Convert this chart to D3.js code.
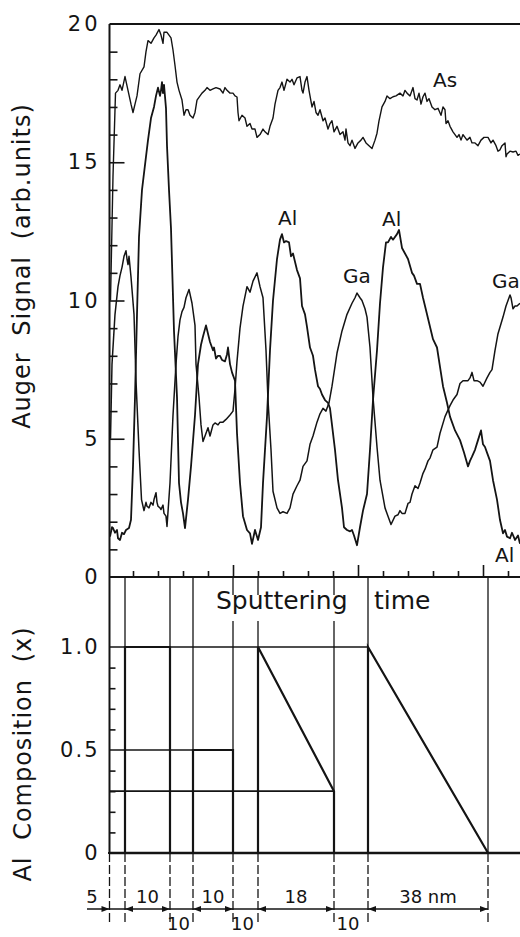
<!DOCTYPE html>
<html><head><meta charset="utf-8">
<script src="https://cdn.jsdelivr.net/npm/d3@7"></script>
<style>
html,body{margin:0;padding:0;background:#fff;}
svg{display:block;}
text{font-family:"DejaVu Sans",sans-serif;fill:#141414;}
</style></head><body>
<svg id="c" width="520" height="937"></svg>
<script>
// ---------- DATA (sputtering time in arb. units, signal in arb. units) ----------
const asSignal = [[2.5,10.0],[5,14.5],[7.5,17.5],[10,17.6],[12,17.8],[14,17.6],[17,18.1],[20,17.6],[23,17.1],[25,16.8],[27,17.1],[29,17.4],[32,18.2],[36,18.45],[38,19.0],[40,19.4],[43,19.3],[46,19.5],[48,19.6],[51,19.8],[53,19.6],[55,19.3],[56,19.7],[59,19.7],[61,19.6],[63,19.5],[65,19.06],[67,18.5],[69,17.9],[71,17.6],[74,17.25],[76,16.7],[78,16.9],[80,16.9],[82,16.7],[85,16.6],[87,16.8],[89,17.25],[92,17.4],[94,17.5],[97,17.6],[99,17.7],[102,17.6],[105,17.65],[108,17.7],[112,17.65],[115,17.5],[117,17.7],[119,17.6],[122,17.5],[125,17.5],[127,17.4],[129,17.36],[130,16.8],[131,16.5],[134,16.7],[137,16.6],[139,16.3],[142,16.4],[144,16.2],[147,16.2],[149,15.9],[152,16.0],[155,16.2],[157,16.1],[160,16.0],[162,16.3],[165,16.6],[167,17.1],[170,17.6],[172,17.7],[174,17.9],[176,17.6],[179,18.0],[182,17.9],[184,18.0],[186,17.8],[189,18.05],[192,18.1],[194,17.6],[195,17.5],[197,17.9],[199,18.1],[201,17.6],[204,17.0],[206,17.2],[208,16.8],[210,16.7],[212,16.9],[215,16.5],[217,16.6],[220,16.2],[222,16.4],[224,16.5],[226,16.1],[229,16.3],[232,16.0],[235,16.1],[237,15.8],[238,16.2],[240,15.7],[242,15.6],[244,15.8],[247,15.5],[250,15.7],[253,15.8],[255,15.9],[258,15.7],[261,15.6],[264,15.5],[267,15.8],[269,16.05],[271,16.5],[274,17.0],[277,17.2],[279,17.4],[282,17.3],[285,17.37],[288,17.4],[292,17.5],[295,17.4],[297,17.6],[299,17.5],[302,17.4],[305,17.7],[307,17.3],[309,17.25],[311,17.5],[313,17.1],[315,17.37],[317,17.5],[319,17.2],[321,17.3],[324,17.0],[327,16.9],[330,16.95],[333,16.7],[335,17.0],[337,16.9],[338,16.4],[340,16.5],[342,16.3],[345,16.1],[347,16.0],[349,15.9],[351,16.0],[353,15.8],[355,16.0],[357,15.9],[359,15.8],[362,15.9],[364,15.7],[367,15.7],[370,15.6],[373,15.8],[376,15.9],[380,15.9],[383,15.7],[385,15.8],[388,15.6],[390,15.4],[392,15.45],[394,15.6],[397,15.7],[398,15.2],[399,15.3],[402,15.4],[405,15.37],[408,15.4],[410,15.25],[412,15.3]];

const alSignal = [[2,1.46],[4,1.8],[5,1.77],[7,1.6],[9,1.7],[10,1.4],[12,1.34],[14,1.6],[16,1.55],[18,1.7],[21,1.77],[23,2.07],[25,4.0],[27,6.5],[29,9.5],[31,12.3],[34,14.0],[38,15.2],[40,15.8],[43,16.6],[46,17.0],[48,17.4],[50,17.7],[52,17.4],[53,17.6],[54,17.9],[55,17.5],[56,17.8],[58,16.95],[59,15.6],[61,14.0],[63,12.6],[66,8.9],[69,6.5],[71,3.4],[73,2.7],[75,2.3],[77,1.77],[80,2.8],[83,4.0],[87,5.85],[90,7.7],[93,8.4],[95,8.7],[98,9.1],[100,8.8],[102,8.5],[105,8.2],[106,8.3],[108,7.9],[110,8.0],[112,8.0],[114,7.85],[117,7.8],[119,8.05],[120,8.3],[122,7.7],[124,7.4],[127,7.1],[129,5.2],[132,3.4],[135,2.2],[139,1.7],[142,1.58],[144,1.2],[147,1.7],[150,1.34],[153,1.8],[155,3.4],[159,5.8],[162,8.2],[165,10.0],[169,11.5],[172,12.2],[174,12.4],[176,12.1],[178,12.15],[181,12.1],[183,11.6],[185,11.7],[189,11.1],[192,10.8],[194,9.8],[197,9.5],[199,9.05],[202,8.3],[205,8.0],[207,7.5],[210,6.9],[212,6.8],[214,6.6],[217,6.4],[220,6.3],[222,6.1],[224,5.5],[227,4.6],[230,3.5],[234,2.5],[236,1.8],[239,1.7],[242,1.65],[244,1.7],[246,1.5],[249,1.15],[252,1.8],[255,2.4],[259,3.0],[262,4.6],[265,6.4],[269,8.2],[272,9.9],[275,11.2],[278,12.1],[280,12.1],[283,12.3],[285,12.2],[289,12.4],[291,12.55],[294,11.9],[297,11.7],[300,11.5],[304,11.0],[306,10.9],[309,10.6],[312,10.6],[315,10.1],[319,9.5],[322,9.05],[325,8.6],[329,8.3],[332,7.6],[335,6.9],[339,6.3],[342,5.8],[347,5.3],[352,4.95],[356,4.5],[360,4.0],[362,4.2],[364,4.35],[367,4.6],[370,4.95],[373,5.3],[375,4.8],[377,4.7],[379,4.5],[382,4.2],[385,3.5],[389,2.8],[392,2.06],[395,1.58],[397,1.7],[399,1.46],[402,1.4],[404,1.6],[407,1.34],[410,1.5],[412,1.2]];

const gaSignal = [[2.5,5.0],[4,7.7],[7,9.5],[10,10.5],[12,10.9],[14,11.2],[16,11.6],[18,11.8],[19,11.5],[20,11.3],[21,11.6],[23,10.85],[26,9.5],[28,7.1],[31,4.6],[33.5,2.8],[36,2.4],[38,2.7],[39,2.56],[41,2.5],[43,2.7],[45,2.6],[46,2.8],[48,3.05],[49,2.7],[50,2.56],[52,2.5],[53,2.44],[55,2.6],[56,2.3],[58,2.2],[59,1.83],[62,3.4],[65,5.85],[68,7.7],[70,8.7],[72,9.3],[74,9.6],[76,9.75],[78,10.1],[81,10.4],[84,9.9],[87,9.1],[88,7.7],[91,6.5],[93,5.5],[95,4.9],[97,5.1],[100,5.4],[102,5.1],[105,5.5],[107,5.57],[110,5.5],[112,5.6],[115,5.6],[118,5.7],[122,5.86],[125,6.0],[127,6.8],[129,7.8],[132,9.0],[135,9.8],[139,10.5],[142,10.3],[145,10.7],[149,11.0],[152,10.5],[155,10.1],[158,8.2],[160,6.4],[163,4.6],[165,3.1],[169,2.5],[172,2.3],[175,2.36],[179,2.3],[182,2.5],[185,3.0],[189,3.3],[192,3.5],[195,4.0],[199,4.2],[202,4.8],[205,5.1],[209,5.6],[212,5.9],[215,6.1],[218,6.0],[221,6.3],[224,6.9],[229,8.1],[234,8.9],[239,9.5],[244,9.9],[247,10.1],[249,10.27],[252,10.1],[254,10.0],[257,9.7],[259,9.4],[262,8.3],[265,6.5],[269,4.7],[272,3.5],[277,2.5],[280,2.2],[283,1.9],[287,2.2],[290,2.25],[292,2.4],[294,2.3],[297,2.3],[300,2.66],[302,2.7],[304,3.0],[307,3.3],[310,3.2],[312,3.4],[315,3.75],[317,3.9],[320,4.2],[322,4.3],[325,4.6],[329,4.7],[332,5.2],[337,5.8],[342,6.2],[345,6.4],[349,6.6],[352,7.0],[355,7.1],[358,7.1],[360,7.1],[362,7.2],[364,7.4],[366,7.1],[369,7.1],[372,7.05],[375,6.9],[379,7.2],[382,7.4],[384,7.5],[387,8.2],[390,8.8],[395,9.4],[398,9.8],[400,10.0],[402,10.2],[403,10.1],[405,9.7],[407,9.8],[409,9.8],[412,9.9]];

// curve labels: [text, time, signal]
const curveLabels = [["As",325,17.72],["Al",170,12.73],["Ga",235,10.63],["Al",274,12.69],["Ga",384,10.45],["Al",387,0.54]];

// layer structure (time units of interfaces) and Al composition of each layer [start, end]
const interfaces = [17, 62, 85, 125, 150, 226, 260, 380];
const layerComp = [[0,0],[1,1],[0,0],[0.5,0.5],[0,0],[1,0.3],[0,0],[1,0],[0,0]];
const thickness = [5, 10, 10, 10, 10, 18, 10, 38];
const thickPlace = ["left","above","below","above","below","above","below","above"];
const refLevels = [1.0, 0.5, 0.3];

// tick values
const signalTicks = [0, 5, 10, 15, 20];
const compTicks = [0, 0.5, 1.0];
const timeEnd = 412;

// ---------- DRAWING ----------
const W = 520, H = 937, ink = "#141414";
const svg = d3.select("#c");
const x = d3.scaleLinear().domain([0, timeEnd]).range([108, 520]);
const yA = d3.scaleLinear().domain([0, 20]).range([577, 24]);
const yC = d3.scaleLinear().domain([0, 1]).range([853, 647]);
const ax0 = 109.5;
const dashBottom = 925;

function clean(g){ g.select(".domain").remove(); g.selectAll("line").attr("stroke", ink).attr("stroke-width", 1.6); }

// interface lines in composition panel
svg.append("g").selectAll("line").data(interfaces).join("line")
  .attr("x1", d => x(d)).attr("x2", d => x(d))
  .attr("y1", yA(0)).attr("y2", yC(0))
  .attr("stroke", ink).attr("stroke-width", 1.3);
// dashed continuation below the axis
svg.append("g").selectAll("line").data([0, ...interfaces]).join("line")
  .attr("x1", (d,i) => i === 0 ? ax0 : x(d)).attr("x2", (d,i) => i === 0 ? ax0 : x(d))
  .attr("y1", yC(0)).attr("y2", dashBottom)
  .attr("stroke", ink).attr("stroke-width", 1.3).attr("stroke-dasharray", "9,3");

// reference level lines from axis
const bounds = [0, ...interfaces, timeEnd];
refLevels.forEach(lv => {
  let end = 0;
  layerComp.forEach((c, i) => { if (c[0] === lv) end = bounds[i]; if (c[1] === lv) end = bounds[i+1]; });
  svg.append("line").attr("x1", ax0).attr("x2", x(end))
    .attr("y1", yC(lv)).attr("y2", yC(lv))
    .attr("stroke", ink).attr("stroke-width", 1.7);
});

// composition profile
const prof = [];
layerComp.forEach((c, i) => { prof.push([bounds[i], c[0]]); prof.push([bounds[i+1], c[1]]); });
svg.append("path").attr("d", d3.line().x(d => x(d[0])).y(d => yC(d[1]))(prof))
  .attr("fill", "none").attr("stroke", ink).attr("stroke-width", 2.2);
svg.append("line").attr("x1", ax0).attr("x2", W).attr("y1", yC(0)).attr("y2", yC(0))
  .attr("stroke", ink).attr("stroke-width", 2.4);

// frame of signal panel
svg.append("line").attr("x1", ax0).attr("x2", W).attr("y1", yA(20)).attr("y2", yA(20)).attr("stroke", ink).attr("stroke-width", 2);
svg.append("line").attr("x1", ax0).attr("x2", ax0).attr("y1", yA(20)).attr("y2", yC(0)).attr("stroke", ink).attr("stroke-width", 2);
svg.append("line").attr("x1", ax0).attr("x2", W).attr("y1", yA(0)).attr("y2", yA(0)).attr("stroke", ink).attr("stroke-width", 2.2);

// y ticks (signal)
svg.append("g").attr("transform", `translate(${ax0},0)`)
  .call(d3.axisRight(yA).tickValues(d3.range(1, 20).filter(v => v % 5)).tickSize(8).tickFormat(""))
  .call(clean);
svg.append("g").attr("transform", `translate(${ax0},0)`)
  .call(d3.axisRight(yA).tickValues([5, 10, 15]).tickSize(15).tickFormat(""))
  .call(clean);
const la = svg.append("g").attr("transform", `translate(${ax0},0)`)
  .call(d3.axisLeft(yA).tickValues(signalTicks).tickSize(0).tickPadding(9).tickFormat(d3.format("d")));
la.select(".domain").remove();
la.selectAll("text").attr("font-family", "DejaVu Sans").attr("font-size", 21).attr("letter-spacing", 3).attr("fill", ink);

// x ticks (time) on signal panel
svg.append("g").attr("transform", `translate(0,${yA(0)})`)
  .call(d3.axisTop(x).tickValues(d3.range(25, timeEnd, 25).filter(v => v % 125)).tickSize(6).tickFormat(""))
  .call(clean);
svg.append("g").attr("transform", `translate(0,${yA(0)})`)
  .call(d3.axisTop(x).tickValues([125, 250, 375]).tickSize(12).tickFormat(""))
  .call(clean);

// composition ticks
svg.append("g").attr("transform", `translate(${ax0},0)`)
  .call(d3.axisRight(yC).tickValues([.1,.2,.3,.4,.6,.7,.8,.9]).tickSize(6).tickFormat(""))
  .call(clean);
const lc = svg.append("g").attr("transform", `translate(${ax0},0)`)
  .call(d3.axisLeft(yC).tickValues(compTicks).tickSize(0).tickPadding(10).tickFormat(d => d === 0 ? "0" : d3.format(".1f")(d)));
lc.select(".domain").remove();
lc.selectAll("text").attr("font-family", "DejaVu Sans").attr("font-size", 21).attr("letter-spacing", 2).attr("fill", ink);

// curves
svg.append("clipPath").attr("id", "pc").append("rect")
  .attr("x", ax0).attr("y", yA(20)).attr("width", W - ax0).attr("height", yA(0) - yA(20));
const line = d3.line().x(d => x(d[0])).y(d => yA(d[1]));
const gc = svg.append("g").attr("clip-path", "url(#pc)");
[[asSignal, 1.4], [gaSignal, 1.5], [alSignal, 1.8]].forEach(([s, w]) => {
  gc.append("path").attr("d", line(s)).attr("fill", "none").attr("stroke", ink)
    .attr("stroke-width", w).attr("stroke-linejoin", "round");
});
svg.selectAll(".cl").data(curveLabels).join("text").attr("class", "cl")
  .attr("x", d => x(d[1])).attr("y", d => yA(d[2])).attr("font-size", 20).text(d => d[0]);

// "Sputtering time" (white band behind the first word breaks the interface lines, as in the original)
const stG = svg.append("g");
const stRect = stG.append("rect").attr("fill", "#fff");
const st = stG.append("text").attr("x", 216).attr("y", 609).attr("font-size", 25).text("Sputtering");
const bb = st.node().getBBox();
stRect.attr("x", bb.x - 2).attr("y", 595).attr("width", bb.width + 4).attr("height", 26);
svg.append("text").attr("x", 374).attr("y", 609).attr("font-size", 25).text("time");

// axis titles
svg.append("text").attr("transform", "translate(30,266) rotate(-90)").attr("text-anchor", "middle")
  .attr("font-size", 24).attr("letter-spacing", 1).attr("word-spacing", 8).text("Auger Signal (arb.units)");
svg.append("text").attr("transform", "translate(31,754) rotate(-90)").attr("text-anchor", "middle")
  .attr("font-size", 24).attr("letter-spacing", 1).attr("word-spacing", 8).text("Al Composition (x)");

// thickness annotations
const arrowY = 909;
svg.append("line").attr("x1", x(0) - 21).attr("x2", x(interfaces[interfaces.length - 1]))
  .attr("y1", arrowY).attr("y2", arrowY).attr("stroke", ink).attr("stroke-width", 1.3);
function head(px, dir){
  svg.append("path").attr("d", `M${px},${arrowY} l${-dir*8},-3 l0,6 z`).attr("fill", ink);
}
head(ax0, 1);
thickness.forEach((t, i) => {
  const a = bounds[i], b = bounds[i+1], p = thickPlace[i];
  const label = i === thickness.length - 1 ? `${t} nm` : `${t}`;
  let tx = x((a + b) / 2) - (p === "below" ? 3 : 0), ty = p === "below" ? 930 : 903;
  if (p === "left") tx = x(0) - 16;
  if (p === "above" && i > 0) { head(x(a), -1); head(x(b), 1); }
  svg.append("text").attr("x", tx).attr("y", ty).attr("text-anchor", "middle").attr("font-size", 18).text(label);
});
</script>
</body></html>
